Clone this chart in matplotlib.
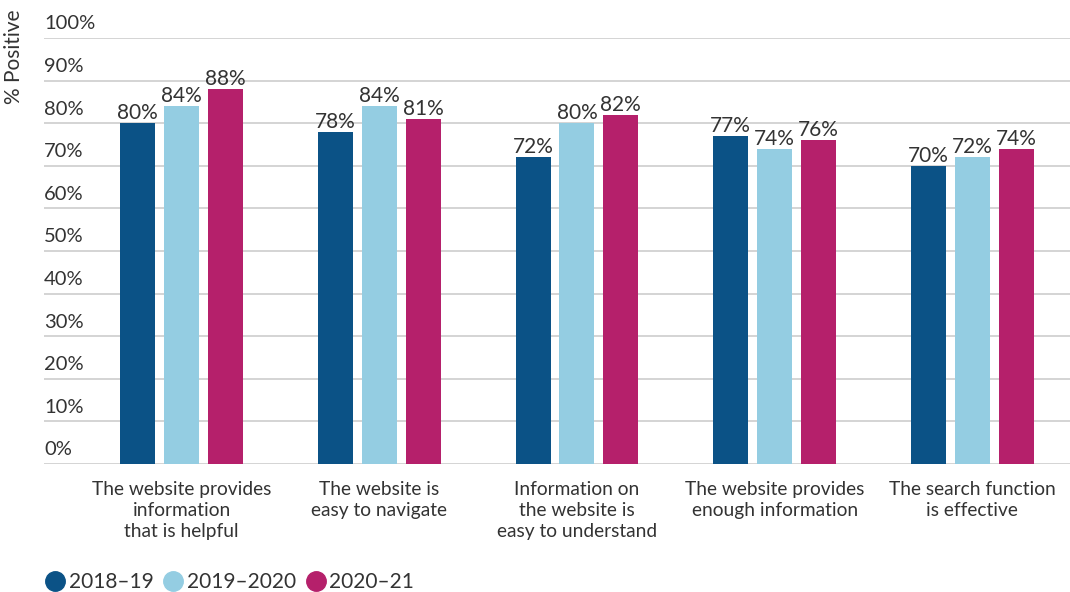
import matplotlib.pyplot as plt
import matplotlib.lines as mlines
import numpy as np

categories = ["The website provides\ninformation\nthat is helpful",
              "The website is\neasy to navigate",
              "Information on\nthe website is\neasy to understand",
              "The website provides\nenough information",
              "The search function\nis effective"]
series = ["2018\u201319", "2019\u20132020", "2020\u201321"]
v_2018 = [80, 78, 72, 77, 70]
v_2019 = [84, 84, 80, 74, 72]
v_2020 = [88, 81, 82, 76, 74]
yticks = [0, 10, 20, 30, 40, 50, 60, 70, 80, 90, 100]

colors = ["#0B5286", "#94CDE2", "#B5206B"]
txt = "#333333"
plt.rcParams["font.family"] = ["Lato", "DejaVu Sans"]

fig = plt.figure(figsize=(10.7, 5.92), dpi=100)
ax = fig.add_axes([44/1070, 128/592, 1 - 44/1070, 426/592])

x = np.arange(len(categories))
w = 0.177
off = 0.222
for i, (vals, c) in enumerate(zip([v_2018, v_2019, v_2020], colors)):
    xs = x + (i - 1) * off
    ax.bar(xs, vals, width=w, color=c, zorder=3)
    for xi, v in zip(xs, vals):
        ax.annotate(f"{v}%", (xi, v), xytext=(0, 0), textcoords="offset points",
                    ha="center", va="bottom", fontsize=15, color=txt)

ax.set_ylim(0, 100)
ax.set_xlim(-0.697, 4.495)
for t in yticks:
    ax.axhline(t, color="#d4d4d4", linewidth=1.4, zorder=1)
    ax.annotate(f"{t}%", (0, t), xycoords=ax.get_yaxis_transform(),
                xytext=(0, 4), textcoords="offset points",
                ha="left", va="bottom", fontsize=14.5, color=txt)

ax.set_yticks([])
ax.set_xticks(x)
ax.set_xticklabels(categories, fontsize=13.8, color=txt, linespacing=1.3)
ax.tick_params(axis="x", length=0, pad=12)
for s in ax.spines.values():
    s.set_visible(False)

fig.text(14/1070, 1 - 57/592, "% Positive", rotation=90, ha="center", va="center",
         fontsize=15, color=txt)

handles = [mlines.Line2D([], [], color=c, marker="o", linestyle="none",
                         markersize=14, label=s) for c, s in zip(colors, series)]
fig.legend(handles=handles, loc="center left", bbox_to_anchor=(26/1070, 1 - 582/592),
           ncol=3, frameon=False, fontsize=15, handletextpad=0.15,
           columnspacing=0.45, handlelength=1.0, labelcolor=txt)

fig.savefig("out.png", dpi=100)
